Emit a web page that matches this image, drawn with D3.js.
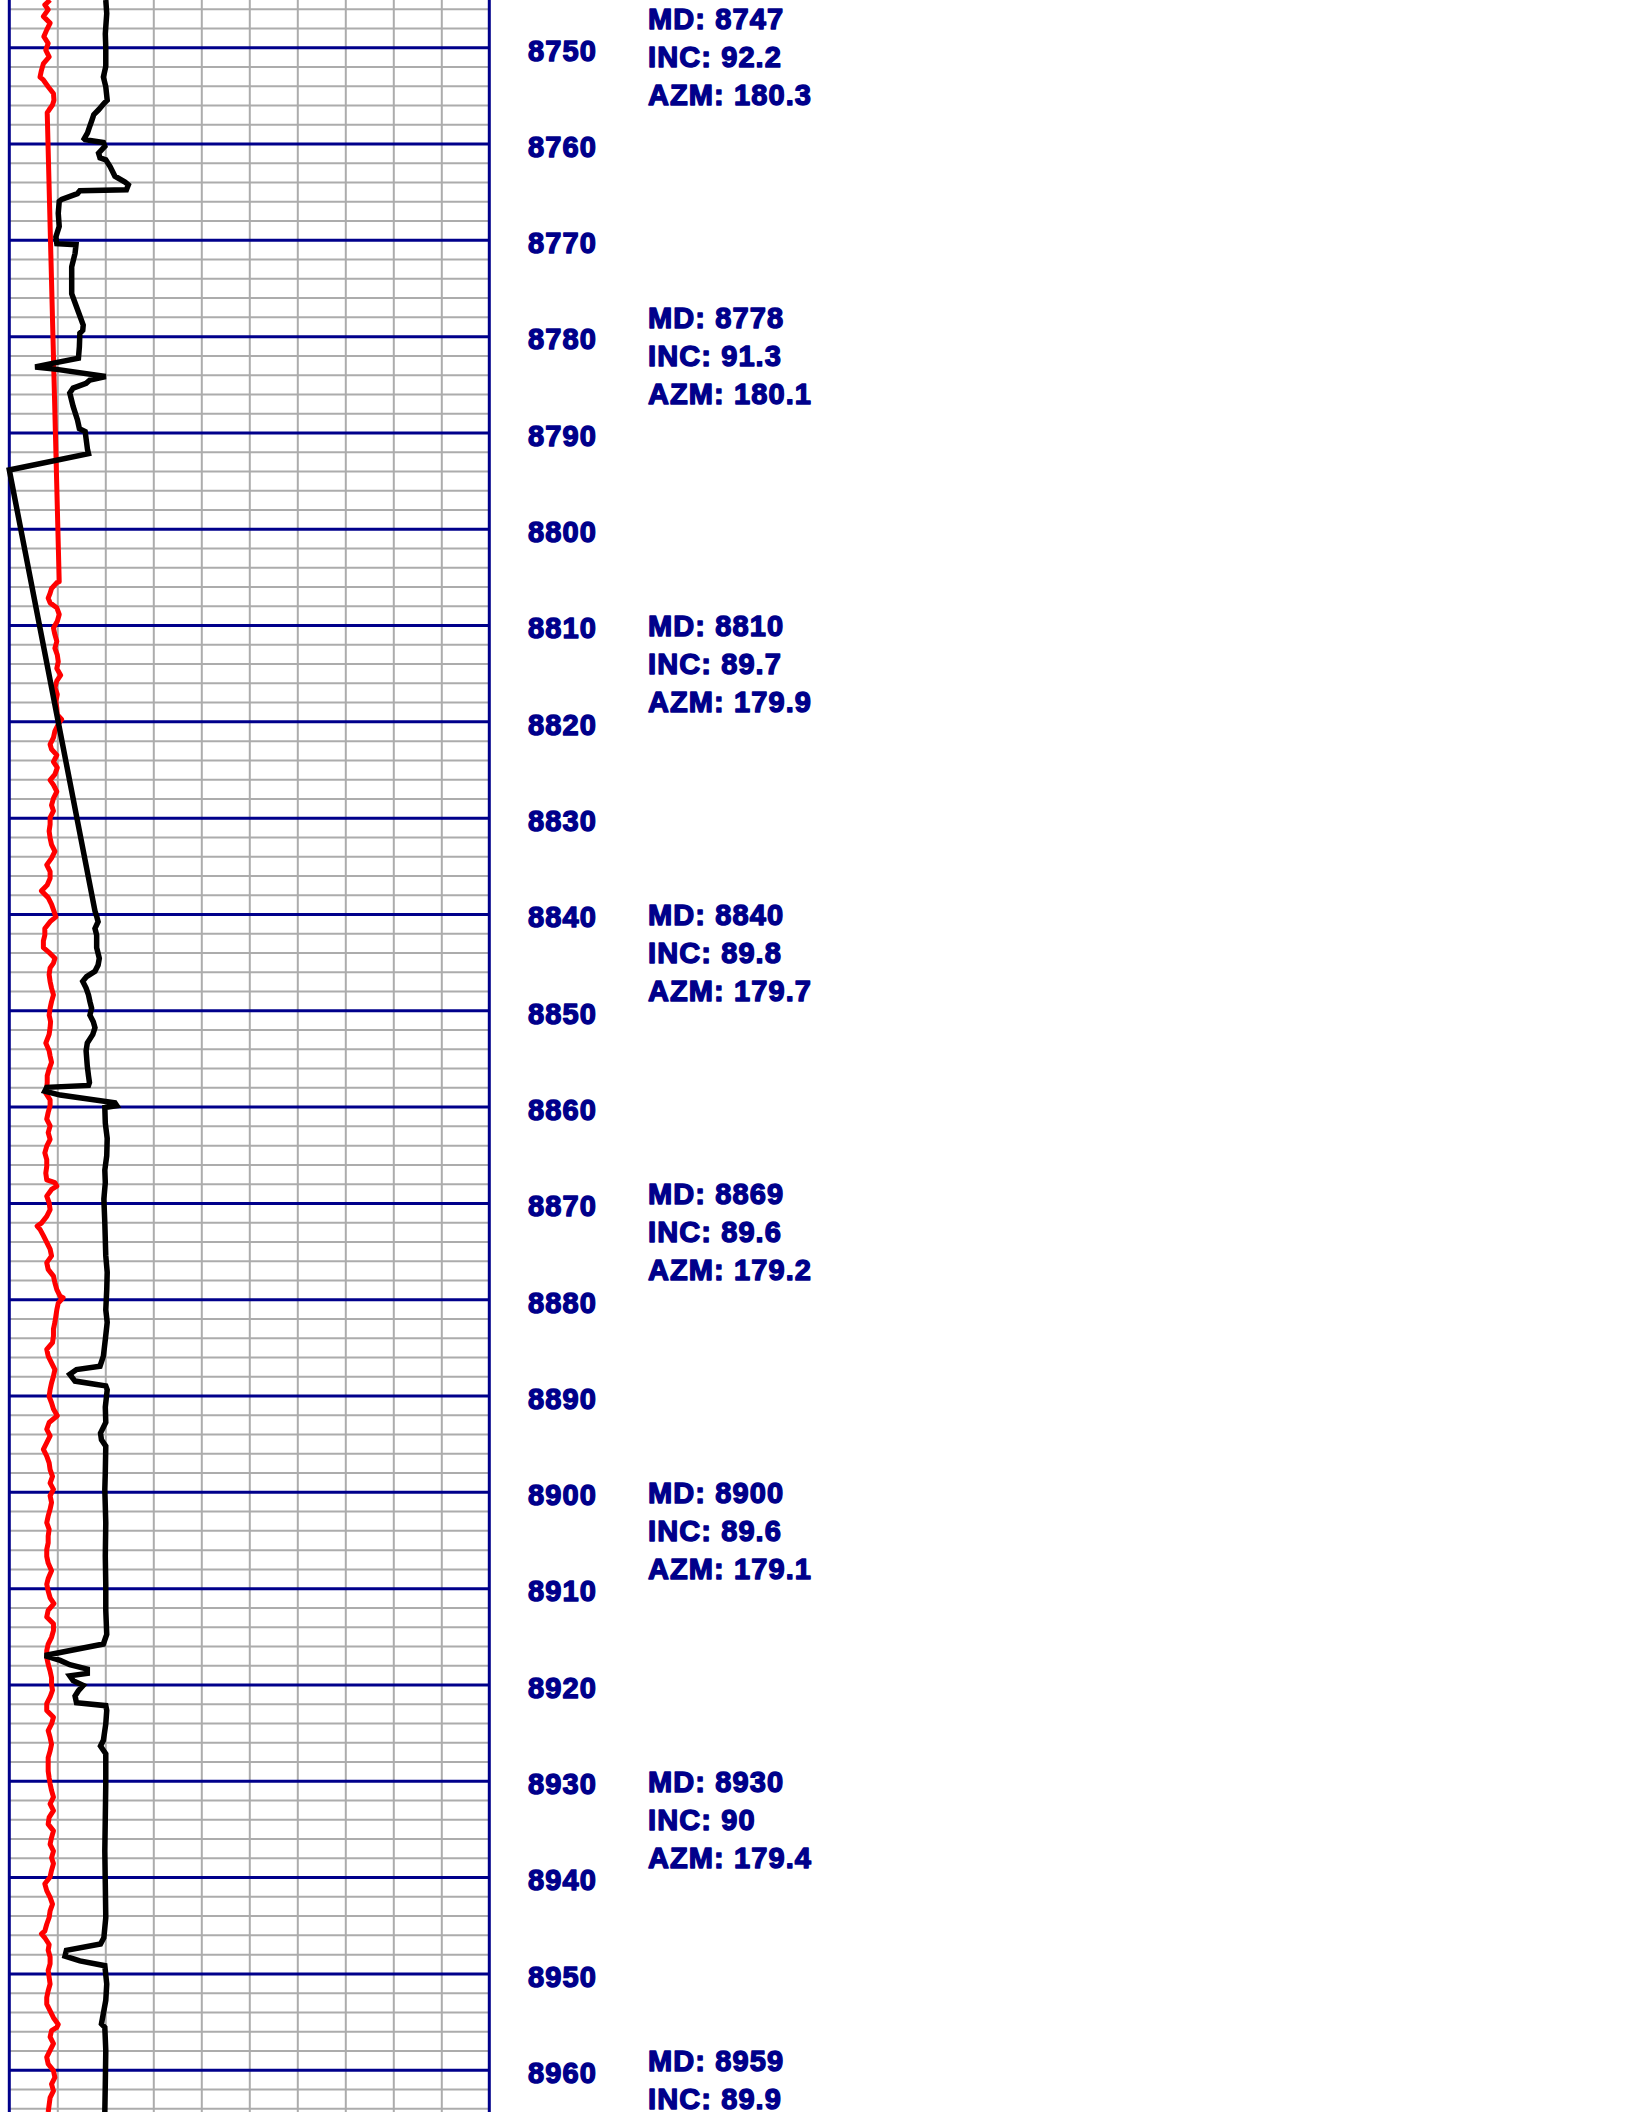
<!DOCTYPE html>
<html>
<head>
<meta charset="utf-8">
<script src="https://cdn.jsdelivr.net/npm/d3@7"></script>
<style>
  html, body { margin: 0; padding: 0; background: #fff; }
  svg { display: block; }
  .lbl { font-family: "Liberation Sans", Arial, sans-serif; font-weight: bold; fill: #00008b;
         stroke: #00008b; stroke-width: 1.4px; stroke-linejoin: round; letter-spacing: 1.1px; font-size: 29px; }
</style>
</head>
<body>
<svg id="log" width="1632" height="2112"></svg>
<script>
// Depth ticks labelled beside the track (ft)
const depthTicks = [8750, 8760, 8770, 8780, 8790, 8800, 8810, 8820, 8830, 8840, 8850,
                    8860, 8870, 8880, 8890, 8900, 8910, 8920, 8930, 8940, 8950, 8960];

// Directional survey stations
const surveyMD  = [8747, 8778, 8810, 8840, 8869, 8900, 8930, 8959];
const surveyINC = [92.2, 91.3, 89.7, 89.8, 89.6, 89.6, 90, 89.9];
const surveyAZM = [180.3, 180.1, 179.9, 179.7, 179.2, 179.1, 179.4, null];

// Black log curve: depth (ft) and value (track units 0-100)
const grDepth = [8745.1, 8746.5, 8748.6, 8750.0, 8752.0, 8753.1, 8754.1, 8755.5, 8755.8, 8756.5,
  8757.0, 8757.6, 8758.3, 8758.9, 8759.5, 8759.6, 8759.9, 8760.3, 8761.0, 8761.5,
  8761.7, 8762.4, 8763.4, 8764.0, 8764.3, 8764.8, 8764.9, 8765.2, 8765.8, 8766.0,
  8767.25, 8768.6, 8769.7, 8770.4, 8770.5, 8771.4, 8772.8, 8775.6, 8777.5, 8778.85,
  8779.4, 8779.7, 8781.1, 8782.3, 8782.8, 8783.2, 8783.45, 8784.2, 8784.55, 8784.9,
  8785.4, 8785.9, 8787.3, 8788.7, 8789.6, 8789.9, 8791.8, 8792.2, 8793.9,
  8839.7, 8840.25, 8840.8, 8841.5, 8842.2, 8843.5, 8844.6, 8845.3, 8845.95, 8846.5,
  8847.0, 8847.7, 8848.4, 8849.1, 8849.8, 8850.5, 8851.2, 8851.8, 8852.5, 8853.4,
  8854.2, 8855.8, 8856.8, 8857.5, 8857.8, 8858.0, 8858.4, 8858.8, 8859.6, 8859.9,
  8860.1, 8861.7, 8863.3, 8865.1, 8866.6, 8867.9, 8869.6, 8872.1, 8875.5, 8877.2,
  8879.0, 8881.1, 8882.4, 8884.2, 8885.9, 8886.95, 8887.3, 8887.8, 8888.5, 8888.85,
  8889.0, 8889.4, 8891.2, 8892.8, 8893.9, 8894.6, 8895.25, 8898.0, 8899.75, 8903.2,
  8906.7, 8909.6, 8912.3, 8914.8, 8915.8, 8917.0, 8917.5, 8917.95, 8918.4, 8918.85,
  8919.1, 8919.6, 8920.1, 8920.65, 8921.2, 8921.9, 8922.2, 8922.7, 8924.1, 8925.8,
  8926.4, 8927.2, 8930.3, 8933.8, 8937.3, 8940.7, 8944.2, 8946.3, 8946.95, 8947.6,
  8948.2, 8948.7, 8949.2, 8951.1, 8952.8, 8955.25, 8955.6, 8958.0, 8961.5, 8964.4];
const grValue = [20.1, 20.3, 20.0, 20.1, 20.1, 19.6, 20.1, 20.4, 19.8, 18.6,
  17.6, 17.2, 16.7, 16.3, 15.6, 15.8, 19.6, 19.9, 18.6, 18.9,
  20.1, 21.0, 22.0, 24.1, 24.8, 24.4, 14.7, 14.2, 10.9, 10.4,
  10.2, 10.4, 9.7, 9.9, 13.9, 13.7, 13.0, 13.0, 14.4, 15.4,
  15.3, 14.7, 14.6, 14.4, 9.2, 5.4, 9.9, 20.1, 16.8, 16.0,
  13.3, 12.6, 13.3, 14.2, 14.6, 15.8, 16.3, 16.5, 0,
  17.85, 18.2, 18.5, 17.85, 18.2, 18.2, 18.75, 18.5, 17.85, 16.1,
  15.3, 16.0, 16.5, 16.8, 17.15, 16.8, 17.5, 17.85, 17.4, 16.25,
  16.0, 16.25, 16.5, 16.7, 16.5, 7.8, 7.4, 10.6, 22.0, 22.4,
  19.9, 20.0, 20.4, 20.3, 19.9, 20.0, 19.7, 19.9, 20.1, 20.4,
  20.3, 20.1, 20.4, 20.0, 19.6, 18.9, 14.0, 12.6, 13.7, 18.2,
  20.1, 20.4, 20.0, 20.1, 19.0, 19.2, 20.1, 20.0, 19.9, 20.1,
  20.0, 20.1, 20.1, 20.3, 19.6, 7.4, 10.6, 12.6, 16.25, 16.25,
  12.6, 13.3, 15.4, 14.4, 13.7, 14.0, 20.1, 20.3, 20.1, 19.6,
  19.0, 20.1, 20.1, 20.0, 19.9, 20.0, 20.1, 19.7, 19.0, 11.9,
  11.6, 14.7, 19.9, 20.3, 20.1, 19.2, 19.9, 20.1, 20.0, 19.9];

// Red log curve: depth (ft) and value (track units 0-100)
const ropDepth = [8745.1, 8745.6, 8746.1, 8746.8, 8747.5, 8748.2, 8748.9, 8749.6, 8750.3, 8751.0,
  8751.7, 8752.4, 8753.1, 8753.4, 8754.1, 8754.8, 8755.5, 8756.0, 8756.5, 8756.8,
  8805.5, 8805.6, 8806.2, 8806.7, 8807.2, 8807.7, 8808.2, 8808.9, 8809.6, 8810.3,
  8811.0, 8811.7, 8812.4, 8813.1, 8813.8, 8814.5, 8815.2, 8815.8, 8816.5, 8817.2,
  8817.9, 8818.6, 8819.3, 8819.8, 8820.3, 8821.0, 8821.7, 8822.4, 8822.9, 8823.5,
  8824.2, 8824.8, 8825.5, 8826.1, 8826.6, 8827.3, 8828.0, 8828.7, 8829.3, 8830.0,
  8830.7, 8831.4, 8832.1, 8832.8, 8833.5, 8834.2, 8834.9, 8835.6, 8836.3, 8837.0,
  8837.6, 8838.3, 8839.0, 8839.7, 8840.3, 8840.8, 8841.5, 8842.2, 8842.8, 8843.5,
  8844.1, 8844.6, 8845.1, 8845.6, 8846.3, 8847.0, 8847.7, 8848.4, 8849.1, 8849.8,
  8850.5, 8851.2, 8851.8, 8852.5, 8853.4, 8854.2, 8854.75, 8855.4, 8856.1, 8856.8,
  8857.5, 8858.0, 8858.6, 8859.3, 8859.9, 8860.6, 8861.3, 8862.0, 8862.7, 8863.4,
  8864.1, 8864.8, 8865.5, 8866.2, 8866.9, 8867.6, 8867.9, 8868.25, 8868.6, 8869.3,
  8870.0, 8870.7, 8871.4, 8872.1, 8872.4, 8872.75, 8873.4, 8874.1, 8874.8, 8875.5,
  8876.2, 8876.9, 8877.6, 8878.3, 8879.0, 8879.7, 8879.85, 8880.4, 8881.1, 8881.75,
  8882.4, 8883.1, 8883.8, 8884.5, 8885.2, 8885.9, 8886.6, 8887.3, 8888.0, 8888.7,
  8889.4, 8890.1, 8890.75, 8891.4, 8892.1, 8892.8, 8893.5, 8894.2, 8894.9, 8895.6,
  8896.3, 8897.0, 8897.7, 8898.4, 8899.1, 8899.75, 8900.4, 8901.1, 8901.8, 8902.5,
  8903.2, 8903.9, 8904.6, 8905.3, 8906.0, 8906.7, 8907.4, 8908.2, 8909.0, 8909.6,
  8910.3, 8911.0, 8911.6, 8912.3, 8913.0, 8913.7, 8914.4, 8915.1, 8915.8, 8916.5,
  8917.2, 8917.9, 8918.6, 8919.3, 8920.0, 8920.6, 8921.3, 8922.0, 8922.7, 8923.4,
  8924.1, 8924.8, 8925.5, 8926.2, 8926.9, 8927.6, 8928.3, 8929.0, 8929.7, 8930.3,
  8931.0, 8931.7, 8932.4, 8933.1, 8933.8, 8934.5, 8935.2, 8935.9, 8936.6, 8937.3,
  8938.0, 8938.6, 8939.3, 8940.0, 8940.7, 8941.4, 8942.1, 8942.8, 8943.5, 8944.2,
  8944.9, 8945.6, 8945.9, 8946.3, 8947.0, 8947.6, 8948.3, 8949.0, 8949.7, 8950.4,
  8951.1, 8951.8, 8952.5, 8953.2, 8953.9, 8954.6, 8955.3, 8955.6, 8955.95, 8956.6,
  8957.3, 8958.0, 8958.7, 8959.4, 8960.1, 8960.8, 8961.5, 8962.2, 8962.9, 8964.4];
const ropValue = [8.5, 7.4, 8.1, 7.1, 8.5, 7.8, 7.2, 8.1, 7.6, 8.3,
  7.1, 6.7, 6.4, 7.1, 8.1, 9.2, 9.3, 9.0, 8.3, 7.9,
  10.4, 9.9, 8.8, 8.5, 8.1, 8.5, 9.9, 10.4, 10.0, 9.2,
  9.5, 9.9, 9.5, 10.0, 10.2, 9.9, 10.7, 9.9, 9.5, 10.0,
  9.7, 9.9, 10.0, 10.9, 10.2, 9.5, 9.2, 8.5, 8.8, 9.9,
  9.2, 10.0, 9.5, 8.5, 9.2, 9.9, 9.2, 8.8, 9.2, 8.5,
  8.5, 8.3, 8.5, 8.8, 9.5, 8.8, 7.8, 8.5, 8.5, 7.9,
  6.7, 8.1, 8.8, 9.3, 9.7, 8.5, 7.4, 7.4, 7.1, 7.1,
  8.5, 9.5, 9.2, 8.5, 8.3, 8.5, 8.8, 9.2, 8.8, 8.5,
  8.3, 8.6, 8.5, 8.3, 7.6, 8.3, 8.5, 8.8, 8.3, 7.9,
  7.9, 7.8, 7.6, 8.5, 8.5, 8.1, 7.8, 8.5, 8.1, 8.5,
  7.8, 7.4, 7.8, 7.8, 7.6, 7.8, 9.5, 9.9, 8.8, 7.8,
  8.3, 8.5, 7.8, 6.7, 5.8, 6.4, 7.1, 7.8, 8.5, 8.8,
  7.8, 8.1, 9.2, 9.5, 9.9, 10.6, 11.2, 10.2, 9.9, 9.7,
  9.5, 9.2, 9.2, 9.0, 7.8, 8.1, 8.8, 9.5, 9.2, 8.8,
  8.5, 8.3, 8.8, 9.2, 10.0, 8.3, 7.8, 8.5, 7.8, 7.1,
  7.8, 8.3, 8.5, 9.0, 8.5, 9.2, 8.5, 8.8, 8.5, 8.1,
  7.8, 8.3, 8.1, 8.1, 7.8, 7.8, 8.1, 8.8, 8.1, 7.8,
  8.1, 8.5, 9.3, 8.1, 7.8, 9.2, 9.2, 8.8, 8.1, 7.8,
  7.8, 8.1, 8.5, 8.8, 8.8, 9.0, 8.5, 7.8, 7.8, 9.2,
  8.8, 8.1, 8.5, 8.8, 8.5, 8.1, 8.1, 8.1, 8.3, 8.5,
  8.8, 9.2, 8.5, 9.2, 8.3, 8.1, 9.2, 8.8, 8.5, 9.2,
  8.8, 9.2, 8.8, 8.5, 7.4, 7.8, 8.5, 9.0, 8.5, 8.3,
  7.8, 7.4, 6.7, 7.4, 8.3, 8.1, 8.5, 8.5, 8.1, 8.3,
  8.5, 8.1, 7.8, 7.8, 8.5, 9.2, 10.2, 9.9, 8.8, 8.5,
  9.2, 8.5, 7.8, 8.1, 9.2, 9.5, 8.8, 9.2, 8.5, 8.1];

const NAVY = "#00008b";
const svg = d3.select("#log");

// Track geometry
const trackLeft = 9.3, trackRight = 489.3;
const x = d3.scaleLinear().domain([0, 100]).range([trackLeft, trackRight]);
const y = d3.scaleLinear().domain([8750, 8960]).range([47.2, 2069.7]);
const [dTop, dBot] = [y.invert(0), y.invert(2112)];

// Minor (2 ft) horizontal grid
const minorTicks = d3.range(Math.ceil(dTop / 2) * 2, dBot, 2).filter(d => d % 10 !== 0);
svg.append("g")
  .attr("transform", `translate(${trackLeft},0)`)
  .call(d3.axisRight(y).tickValues(minorTicks).tickSize(trackRight - trackLeft).tickFormat(""))
  .call(g => g.select(".domain").remove())
  .call(g => g.selectAll("line").attr("stroke", "#acacac").attr("stroke-width", 2));

// Vertical grid
svg.append("g")
  .call(d3.axisBottom(x).tickValues(d3.range(10, 100, 10)).tickSize(2112).tickFormat(""))
  .call(g => g.select(".domain").remove())
  .call(g => g.selectAll("line").attr("stroke", "#acacac").attr("stroke-width", 2));

// Major (10 ft) horizontal grid
svg.append("g")
  .attr("transform", `translate(${trackLeft},0)`)
  .call(d3.axisRight(y).tickValues(depthTicks).tickSize(trackRight - trackLeft).tickFormat(""))
  .call(g => g.select(".domain").remove())
  .call(g => g.selectAll("line").attr("stroke", NAVY).attr("stroke-width", 3));

// Track borders
svg.append("g")
  .selectAll("line")
  .data([0, 100])
  .join("line")
  .attr("x1", d => x(d)).attr("x2", d => x(d))
  .attr("y1", 0).attr("y2", 2112)
  .attr("stroke", NAVY).attr("stroke-width", 3);

// Curves
const line = (depths, values) => d3.line()
  .x(i => x(values[i]))
  .y(i => y(depths[i]))(d3.range(depths.length));

svg.append("path")
  .attr("d", line(ropDepth, ropValue))
  .attr("fill", "none").attr("stroke", "#ff0000")
  .attr("stroke-width", 5).attr("stroke-linejoin", "round");

svg.append("path")
  .attr("d", line(grDepth, grValue))
  .attr("fill", "none").attr("stroke", "#000")
  .attr("stroke-width", 5.5).attr("stroke-linejoin", "miter").attr("stroke-miterlimit", 3);

// Depth labels
svg.append("g")
  .attr("transform", "translate(528,0)")
  .call(d3.axisRight(y).tickValues(depthTicks).tickSize(0).tickPadding(0).tickFormat(d3.format("d")))
  .call(g => g.select(".domain").remove())
  .call(g => g.selectAll("text")
    .attr("class", "lbl")
    .attr("text-anchor", "start")
    .attr("dy", 12.8)
    .attr("font-size", null).attr("font-family", null).attr("fill", null));

// Survey annotations
const stations = surveyMD.map((md, i) => ({ md, inc: surveyINC[i], azm: surveyAZM[i] }));
const st = svg.append("g").selectAll("g").data(stations).join("g")
  .attr("transform", d => `translate(648,${y(d.md)})`);
st.each(function (d) {
  const rows = [`MD: ${d.md}`, `INC: ${d.inc}`];
  if (d.azm !== null) rows.push(`AZM: ${d.azm}`);
  d3.select(this).selectAll("text").data(rows).join("text")
    .attr("class", "lbl")
    .attr("y", (r, i) => 11 + i * 38)
    .text(r => r);
});
</script>
</body>
</html>
